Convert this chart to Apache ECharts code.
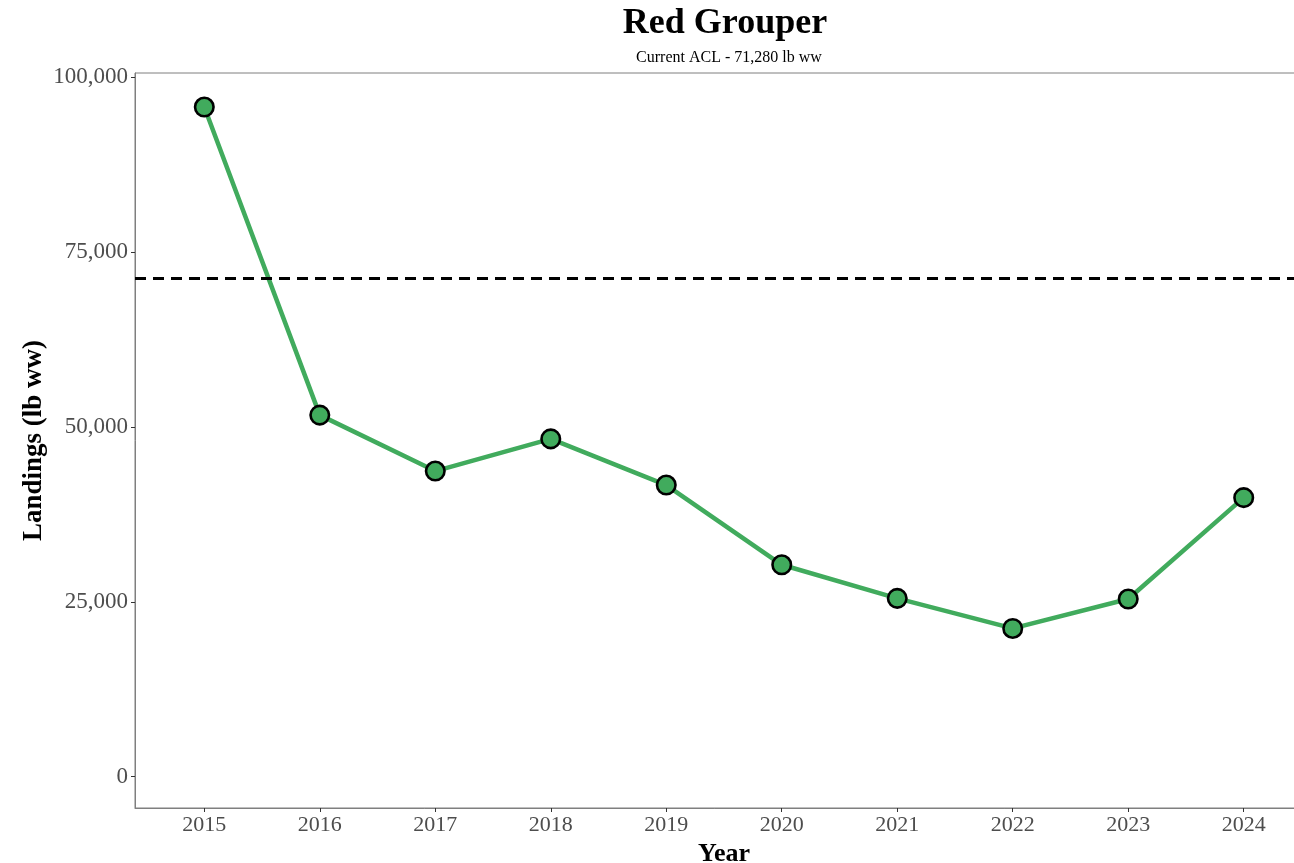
<!DOCTYPE html>
<html>
<head>
<meta charset="utf-8">
<title>Red Grouper</title>
<script src="https://cdn.jsdelivr.net/npm/echarts@6/dist/echarts.min.js"></script>
<style>
  html, body { margin: 0; padding: 0; background: #ffffff; }
  #chart { width: 1294px; height: 863px; }
</style>
</head>
<body>
<div id="chart"></div>
<script>
// Annual landings (lb whole weight) for Red Grouper
const years = [2015, 2016, 2017, 2018, 2019, 2020, 2021, 2022, 2023, 2024];
const landings = [95750, 51700, 43700, 48300, 41700, 30300, 25500, 21200, 25400, 39900];
const acl = 71280;
const yTicks = [0, 25000, 50000, 75000, 100000];

const serif = '"Liberation Serif", "Times New Roman", serif';
const fmt = v => v.toLocaleString('en-US');

const chart = echarts.init(document.getElementById('chart'), null, { renderer: 'canvas' });

chart.setOption({
  backgroundColor: '#ffffff',
  animation: false,
  title: [
    {
      text: 'Red Grouper',
      left: 720, top: 1, textAlign: 'center',
      textStyle: { fontFamily: serif, fontWeight: 'bold', fontSize: 36, color: '#000000' }
    },
    {
      text: 'Current ACL - ' + fmt(acl) + ' lb ww',
      left: 724, top: 45, textAlign: 'center',
      textStyle: { fontFamily: serif, fontWeight: 'normal', fontSize: 16, color: '#000000' }
    }
  ],
  grid: {
    left: 135, top: 73, width: 1178, bottom: 55,
    outerBoundsMode: 'none', containLabel: false,
    show: true, borderColor: '#7f7f7f', borderWidth: 1, backgroundColor: 'transparent'
  },
  xAxis: {
    type: 'value',
    min: 2014.4, max: 2024.6,
    name: 'Year', nameLocation: 'middle', nameGap: 33, nameMoveOverlap: false,
    nameTextStyle: { fontFamily: serif, fontWeight: 'bold', fontSize: 26, color: '#000000' },
    axisLine: { show: true, onZero: false, lineStyle: { color: '#7f7f7f', width: 1 } },
    axisTick: { show: true, length: 4, lineStyle: { color: '#333333' }, customValues: years },
    axisLabel: {
      fontFamily: serif, fontSize: 22, color: '#4d4d4d', margin: 6,
      customValues: years, formatter: v => String(v)
    },
    splitLine: { show: false }
  },
  yAxis: {
    type: 'value',
    min: -4475, max: 100615,
    name: 'Landings (lb ww)', nameLocation: 'middle', nameGap: 87, nameRotate: 90,
    nameMoveOverlap: false,
    nameTextStyle: { fontFamily: serif, fontWeight: 'bold', fontSize: 27, color: '#000000' },
    axisLine: { show: true, onZero: false, lineStyle: { color: '#7f7f7f', width: 1 } },
    axisTick: { show: true, length: 4, lineStyle: { color: '#333333' }, customValues: yTicks },
    axisLabel: {
      fontFamily: serif, fontSize: 23, color: '#4d4d4d', margin: 7,
      customValues: yTicks, formatter: v => fmt(v)
    },
    splitLine: { show: false }
  },
  series: [
    {
      name: 'Landings',
      type: 'line',
      data: years.map((y, i) => [y, landings[i]]),
      lineStyle: { color: '#41ab5d', width: 4.5 },
      symbol: 'circle',
      symbolSize: 18.5,
      itemStyle: { color: '#41ab5d', borderColor: '#000000', borderWidth: 2.6 },
      z: 2
    },
    {
      name: 'ACL',
      type: 'line',
      data: [],
      z: 5,
      markLine: {
        silent: true,
        symbol: 'none',
        label: { show: false },
        lineStyle: { color: '#000000', width: 3, type: [11, 7] },
        data: [{ yAxis: acl }]
      }
    }
  ]
});
</script>
</body>
</html>
